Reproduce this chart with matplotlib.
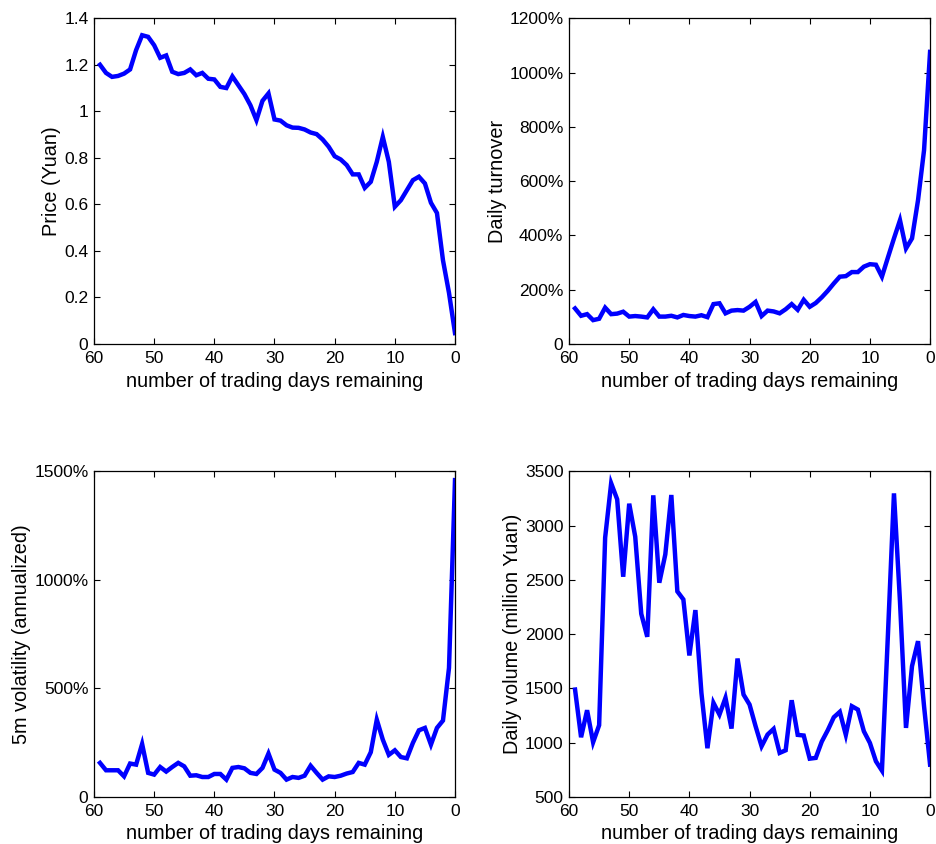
import numpy as np
import matplotlib
matplotlib.use('Agg')
import matplotlib.pyplot as plt
from matplotlib.ticker import FuncFormatter

plt.rcParams['font.family'] = ['Liberation Sans', 'DejaVu Sans']

days = np.arange(59, -1, -1)

price = [1.20, 1.165, 1.148, 1.152, 1.162, 1.18, 1.263, 1.327, 1.32, 1.284,
         1.23, 1.24, 1.17, 1.16, 1.165, 1.18, 1.155, 1.165, 1.14, 1.137,
         1.105, 1.10, 1.15, 1.112, 1.074, 1.026, 0.962, 1.045, 1.077, 0.965,
         0.96, 0.94, 0.93, 0.929, 0.922, 0.909, 0.902, 0.879, 0.848, 0.807,
         0.793, 0.769, 0.729, 0.729, 0.671, 0.697, 0.783, 0.89, 0.783, 0.59,
         0.618, 0.661, 0.704, 0.719, 0.69, 0.607, 0.563, 0.36, 0.22, 0.047]

turnover = [131, 104, 110, 88, 93, 134, 110, 112, 119, 101,
            103, 101, 98, 128, 101, 101, 104, 98, 107, 103,
            101, 106, 99, 147, 150, 113, 123, 125, 123, 137,
            155, 103, 123, 120, 113, 128, 147, 126, 163, 137,
            151, 172, 196, 223, 248, 250, 265, 265, 285, 294,
            292, 248, 319, 389, 456, 352, 389, 530, 714, 1076]

volatility = [157, 123, 123, 123, 95, 154, 149, 244, 111, 103,
              138, 117, 138, 157, 141, 98, 100, 92, 92, 106,
              106, 80, 134, 138, 132, 111, 106, 134, 200, 126,
              111, 80, 92, 88, 98, 144, 111, 80, 95, 92,
              98, 108, 115, 157, 149, 206, 356, 264, 194, 215,
              184, 178, 249, 307, 318, 241, 318, 352, 594, 1459]

volume = [1489, 1050, 1299, 1004, 1161, 2888, 3389, 3241, 2528, 3201,
          2897, 2187, 1975, 3278, 2473, 2734, 3281, 2393, 2319, 1803,
          2221, 1459, 949, 1367, 1259, 1413, 1130, 1775, 1443, 1351,
          1152, 967, 1075, 1127, 906, 930, 1391, 1072, 1066, 853,
          860, 1010, 1115, 1234, 1284, 1072, 1336, 1305, 1105, 998,
          829, 743, 2000, 3296, 2300, 1136, 1705, 1935, 1336, 798]

xlabel = 'number of trading days remaining'
BLUE = (0, 0, 1)


def num_fmt(v, pos):
    return ('%g' % round(v, 6))


def pct_fmt(v, pos):
    if abs(v) < 1e-9:
        return '0'
    return '%d%%' % round(v)


fig = plt.figure(figsize=(9.37, 8.44), dpi=100)
w, h = 0.3853, 0.386
ax1 = fig.add_axes([0.1003, 0.5924, w, h])
ax2 = fig.add_axes([0.6073, 0.5924, w, h])
ax3 = fig.add_axes([0.1003, 0.0557, w, h])
ax4 = fig.add_axes([0.6073, 0.0557, w, h])

panels = [
    (ax1, price, 'Price (Yuan)', (0, 1.4), np.arange(0, 1.41, 0.2), num_fmt),
    (ax2, turnover, 'Daily turnover', (0, 1200), np.arange(0, 1201, 200), pct_fmt),
    (ax3, volatility, '5m volatility (annualized)', (0, 1500), np.arange(0, 1501, 500), pct_fmt),
    (ax4, volume, 'Daily volume (million Yuan)', (500, 3500), np.arange(500, 3501, 500), num_fmt),
]

for ax, vals, ylab, ylim, yticks, fmt in panels:
    ax.plot(days, vals, color=BLUE, lw=3.2, solid_joinstyle='miter')
    ax.set_xlim(60, 0)
    ax.set_ylim(*ylim)
    ax.set_xticks(np.arange(60, -1, -10))
    ax.set_yticks(yticks)
    ax.yaxis.set_major_formatter(FuncFormatter(fmt))
    ax.xaxis.set_major_formatter(FuncFormatter(num_fmt))
    ax.tick_params(direction='in', top=True, right=True, length=4, width=0.8,
                   labelsize=12.5)
    ax.tick_params(axis='x', pad=5)
    ax.tick_params(axis='y', pad=4)
    for sp in ax.spines.values():
        sp.set_linewidth(0.9)
    ax.set_xlabel(xlabel, fontsize=14.3, labelpad=4)
    ax.set_ylabel(ylab, fontsize=14.3, labelpad=2)

fig.savefig('out.png', dpi=100)
